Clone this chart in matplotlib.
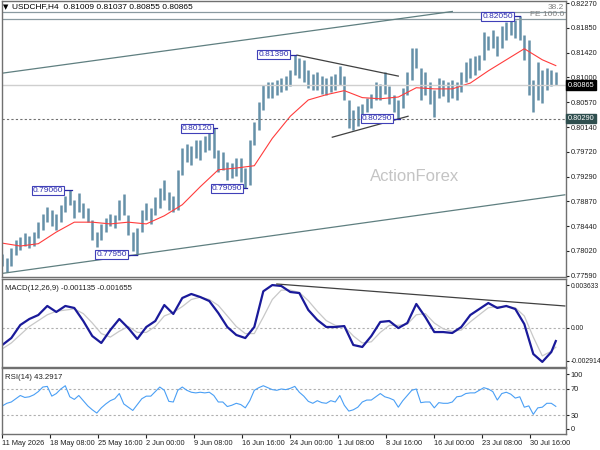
import numpy as np
import matplotlib.pyplot as plt

plt.rcParams['font.family'] = ['Liberation Sans', 'DejaVu Sans']
plt.rcParams['font.size'] = 6

# H4 price bars, one sample every 3 bars (high / low)
hi = [0.7796, 0.7790, 0.7807, 0.7820, 0.7826, 0.7832, 0.7827, 0.7834, 0.7851, 0.7865,
      0.7877, 0.7872, 0.7865, 0.7881, 0.7896, 0.7906, 0.7889, 0.7901, 0.7884, 0.7875,
      0.7855, 0.7834, 0.7848, 0.7858, 0.7865, 0.7863, 0.7889, 0.7899, 0.7863, 0.7834,
      0.7841, 0.7872, 0.7884, 0.7875, 0.7894, 0.7910, 0.7924, 0.7903, 0.7896, 0.7941,
      0.7978, 0.7985, 0.7982, 0.7992, 0.7992, 0.7999, 0.8004, 0.8012, 0.7975, 0.7972,
      0.7954, 0.7953, 0.7961, 0.7961, 0.7944, 0.7992, 0.8023, 0.8058, 0.8087, 0.8092,
      0.8092, 0.8095, 0.8099, 0.8102, 0.8112, 0.8139, 0.8133, 0.8130, 0.8112, 0.8106,
      0.8109, 0.8102, 0.8099, 0.8102, 0.8106, 0.8119, 0.8102, 0.8061, 0.8044, 0.8051,
      0.8054, 0.8064, 0.8071, 0.8092, 0.8088, 0.8109, 0.8085, 0.8070, 0.8061, 0.8082,
      0.8109, 0.8150, 0.8150, 0.8116, 0.8109, 0.8092, 0.8078, 0.8099, 0.8095, 0.8092,
      0.8095, 0.8092, 0.8109, 0.8126, 0.8133, 0.8137, 0.8138, 0.8178, 0.8171, 0.8181,
      0.8171, 0.8188, 0.8195, 0.8202, 0.8198, 0.8205, 0.8173, 0.8164, 0.8095, 0.8126,
      0.8112, 0.8116, 0.8112, 0.8109]
lo = [0.7776, 0.7765, 0.7776, 0.7795, 0.7803, 0.7810, 0.7807, 0.7810, 0.7824, 0.7838,
      0.7851, 0.7844, 0.7838, 0.7851, 0.7869, 0.7881, 0.7858, 0.7869, 0.7858, 0.7851,
      0.7820, 0.7808, 0.7820, 0.7834, 0.7844, 0.7841, 0.7855, 0.7863, 0.7829, 0.7802,
      0.7795, 0.7834, 0.7855, 0.7848, 0.7863, 0.7875, 0.7889, 0.7872, 0.7869, 0.7872,
      0.7932, 0.7954, 0.7949, 0.7961, 0.7958, 0.7972, 0.7975, 0.7961, 0.7937, 0.7941,
      0.7924, 0.7927, 0.7930, 0.7920, 0.7909, 0.7915, 0.7984, 0.8009, 0.8044, 0.8064,
      0.8064, 0.8070, 0.8075, 0.8078, 0.8085, 0.8104, 0.8099, 0.8092, 0.8082, 0.8078,
      0.8078, 0.8071, 0.8070, 0.8075, 0.8078, 0.8087, 0.8061, 0.8013, 0.8009, 0.8016,
      0.8030, 0.8040, 0.8047, 0.8061, 0.8061, 0.8071, 0.8054, 0.8040, 0.8029, 0.8047,
      0.8070, 0.8095, 0.8116, 0.8061, 0.8070, 0.8054, 0.8032, 0.8064, 0.8068, 0.8058,
      0.8064, 0.8061, 0.8075, 0.8092, 0.8099, 0.8104, 0.8112, 0.8130, 0.8147, 0.8150,
      0.8137, 0.8150, 0.8164, 0.8173, 0.8167, 0.8164, 0.8130, 0.8070, 0.8040, 0.8061,
      0.8056, 0.8078, 0.8085, 0.8087]

# moving average (every 4th sample + last)
ma_line = [0.7815, 0.7810, 0.7814, 0.7834, 0.7851, 0.7851, 0.7848, 0.7851, 0.7848, 0.7862,
           0.7881, 0.7912, 0.7941, 0.7944, 0.7948, 0.7995, 0.8033, 0.8061, 0.8070, 0.8077,
           0.8065, 0.8063, 0.8066, 0.8082, 0.8080, 0.8080, 0.8090, 0.8111, 0.8130, 0.8149,
           0.8130, 0.8120]

# MACD(12,26,9) in units of 0.001 (every 2nd sample + last)
macd = [-1.47, -0.88, 0.23, 0.74, 1.08, 1.85, 1.34, 1.85, 1.68, 0.57,
        -0.71, -1.30, -0.20, 0.74, -0.03, -0.96, 0.06, 0.57, 1.93, 1.17,
        2.53, 2.87, 2.61, 2.27, 1.25, 0.06, -0.62, -0.88, 0.06, 3.10,
        3.63, 3.55, 3.04, 2.95, 1.51, 0.66, 0.06, 0.06, 0.14, -1.47,
        -1.64, -0.71, 0.49, 0.57, -0.03, 0.40, 2.02, 0.91, -0.37, -0.37,
        -0.45, 0.06, 1.08, 1.59, 2.10, 1.68, 1.85, 1.59, 0.31, -2.24,
        -2.91, -2.07, -1.135]
signal = [-1.8, -1.3, -0.6, 0.1, 0.6, 1.1, 1.4, 1.5, 1.6, 1.2,
          0.4, -0.5, -0.8, -0.3, 0.1, -0.4, -0.4, 0.1, 1.0, 1.3,
          1.8, 2.4, 2.6, 2.4, 1.9, 1.0, 0.1, -0.5, -0.5, 0.9,
          2.4, 3.2, 3.2, 3.0, 2.3, 1.4, 0.6, 0.2, 0.1, -0.7,
          -1.3, -1.2, -0.4, 0.2, 0.2, 0.3, 1.1, 1.2, 0.4, -0.1,
          -0.3, -0.2, 0.5, 1.1, 1.7, 1.8, 1.8, 1.7, 1.0, -0.8,
          -2.4, -2.0, -1.655]

# RSI(14), one sample every 3 bars
rsi = [44, 48, 50, 55, 60, 57, 58, 61, 66, 73,
       74, 59, 63, 70, 75, 58, 54, 60, 52, 44,
       38, 33, 41, 47, 52, 55, 63, 47, 42, 37,
       46, 55, 59, 59, 66, 73, 68, 51, 50, 68,
       73, 68, 65, 64, 65, 64, 65, 60, 50, 50,
       43, 45, 48, 46, 41, 52, 68, 72, 75, 72,
       69, 68, 70, 69, 71, 74, 65, 59, 51, 48,
       52, 49, 48, 52, 50, 60, 45, 36, 38, 42,
       50, 53, 53, 58, 63, 58, 56, 53, 42, 52,
       60, 68, 70, 49, 50, 50, 41, 49, 48, 48,
       50, 58, 59, 63, 64, 64, 68, 72, 70, 66,
       53, 63, 65, 62, 56, 58, 42, 44, 31, 41,
       42, 48, 48, 43.29]

date_labels = ['11 May 2026', '18 May 08:00', '25 May 16:00', '2 Jun 00:00',
               '9 Jun 08:00', '16 Jun 16:00', '24 Jun 00:00', '1 Jul 08:00',
               '8 Jul 16:00', '16 Jul 00:00', '23 Jul 08:00', '30 Jul 16:00']
price_ticks = [0.8227, 0.8185, 0.8142, 0.8100, 0.8057, 0.8014,
               0.7972, 0.7929, 0.7887, 0.7844, 0.7802, 0.7759]

# swing labels: (bar index, price, label box right edge)
swings = [(46.5, 0.7906, 40.5), (90, 0.7795, 83), (143, 0.8012, 140),
          (163, 0.7909, 160), (196, 0.8139, 191), (265, 0.8029, 260),
          (345, 0.8205, 340.5)]

# drawn trend lines (bar index, value)
channel_top = [(0, 0.8107), (300, 0.8213)]
channel_bot = [(0, 0.7763), (375, 0.7898)]
tri_top = [(196.5, 0.8138), (264, 0.8102)]
tri_bot = [(220, 0.7997), (270.5, 0.8033)]
macd_trend = [(183, 3.72), (375, 1.85)]

last_price = 0.80865
support = 0.80290
fe_100 = 0.8200
fibo_382 = 0.8212

step = 3
bar_x = np.arange(len(hi)) * step
ma_x = np.r_[np.arange(0, 121, 4), 123] * step
macd_x = np.r_[np.arange(0, 123, 2), 123] * step
xmin, xmax = -0.2, 375.8

bar_col = '#6590a8'
frame_col = '#707070'
fs = 5.3

fig = plt.figure(figsize=(6, 4.5), dpi=100)
ax = fig.add_axes([2/600, 1 - 277/450, 564/600, 276/450])
ax2 = fig.add_axes([2/600, 1 - 367.3/450, 564/600, 88/450])
ax3 = fig.add_axes([2/600, 1 - 434/450, 564/600, 65.7/450])

for a in (ax, ax2, ax3):
    a.set_xlim(xmin, xmax)
    a.yaxis.tick_right()
    a.tick_params(axis='y', length=2, pad=1.2, labelsize=fs, colors='#202020')
    for s in a.spines.values():
        s.set_color(frame_col)
        s.set_linewidth(1)
    a.set_xticks(np.arange(len(date_labels)) * 32)
for a in (ax, ax2):
    a.tick_params(axis='x', length=0, labelbottom=False)

# ---- main price panel
ax.set_ylim(0.77568, 0.8231)
ax.vlines(bar_x, lo, hi, color=bar_col, lw=1.8)
ax.plot(ma_x, ma_line, color='#ff3c3c', lw=0.8)

ax.axhline(last_price, color='#cfcfcf', lw=1)
ax.axhline(support, color='#707070', lw=0.8, ls=(0, (2, 2)))
ax.axhline(fe_100, color='#8a9aa0', lw=0.9)
ax.axhline(fibo_382, color='#8a9aa0', lw=0.9)
ax.text(xmax - 1.5, fibo_382 + 0.0001, '38.2', ha='right', va='bottom', color='#808080', fontsize=6)
ax.text(xmax - 1.5, fe_100 + 0.0001, 'FE 100.0', ha='right', va='bottom', color='#808080', fontsize=6)

for line, col in ((channel_top, '#5f7f80'), (channel_bot, '#5f7f80'),
                  (tri_top, '#404040'), (tri_bot, '#404040')):
    xs, ys = zip(*line)
    ax.plot(xs, ys, color=col, lw=0.9)

for bx, price, right in swings:
    ax.plot([right, bx], [price, price], color='#2828a0', lw=0.9)
    ax.text(right, price, '%.5f' % price, ha='right', va='center', color='#3030b0', fontsize=6,
            bbox=dict(boxstyle='square,pad=0.12', fc='white', ec='#4040b8', lw=0.8))

ax.text(275, 0.7930, 'ActionForex', ha='center', va='center', color='#c4c4c4', fontsize=12)

ax.set_yticks(price_ticks)
ax.set_yticklabels(['%.5f' % p for p in price_ticks])
ytr = ax.get_yaxis_transform()
ax.text(1.003, last_price, '%.5f' % last_price, transform=ytr, ha='left', va='center',
        color='white', fontsize=fs, bbox=dict(boxstyle='square,pad=0.18', fc='black', ec='black'))
ax.text(1.003, support, '%.5f' % support, transform=ytr, ha='left', va='center',
        color='white', fontsize=fs, bbox=dict(boxstyle='square,pad=0.18', fc='#2f4f4f', ec='#2f4f4f'))

fig.text(3/600, 1 - 7/450, '\u25bc', fontsize=5, va='center', family='DejaVu Sans')
fig.text(12/600, 1 - 7/450, 'USDCHF,H4  0.81009 0.81037 0.80855 0.80865', fontsize=6, va='center')

# ---- MACD panel
ax2.set_ylim(-3.37, 4.12)
ax2.axhline(0, color='#b0b0b0', lw=0.8, ls=(0, (2, 2)))
ax2.plot(macd_x, signal, color='#c8c8c8', lw=0.9)
ax2.plot(macd_x, macd, color='#1a1a9a', lw=1.6)
xs, ys = zip(*macd_trend)
ax2.plot(xs, ys, color='#404040', lw=0.9)
ax2.set_yticks([3.633, 0, -2.83])
ax2.set_yticklabels(['0.003633', '0.00', '-0.002914'])
ax2.tick_params(axis='y', labelsize=4.9)
ax2.text(0.005, 0.93, 'MACD(12,26,9) -0.001135 -0.001655', transform=ax2.transAxes,
         ha='left', va='top', fontsize=fs + 0.3, color='#202020')

# ---- RSI panel
ax3.set_ylim(0.8, 101.8)
ax3.axhline(70, color='#b0b0b0', lw=0.8, ls=(0, (2, 2)))
ax3.axhline(30, color='#b0b0b0', lw=0.8, ls=(0, (2, 2)))
ax3.plot(bar_x, rsi, color='#4a9ff5', lw=0.8)
ax3.set_yticks([93, 70, 30, 8.5])
ax3.set_yticklabels(['100', '70', '30', '0'])
ax3.text(0.005, 0.92, 'RSI(14) 43.2917', transform=ax3.transAxes,
         ha='left', va='top', fontsize=fs + 0.3, color='#202020')
ax3.set_xticklabels(date_labels, ha='left')
ax3.tick_params(axis='x', length=3, pad=1.5, labelsize=fs, colors='#202020')

fig.savefig('out.png', dpi=100)
